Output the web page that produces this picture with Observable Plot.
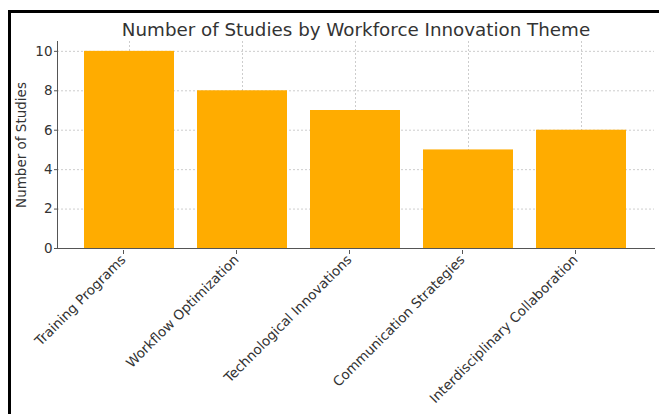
<!DOCTYPE html>
<html>
<head>
<meta charset="utf-8">
<script src="https://cdn.jsdelivr.net/npm/d3@7"></script>
<script src="https://cdn.jsdelivr.net/npm/@observablehq/plot@0.6"></script>
<style>
  html, body { margin: 0; padding: 0; background: #fff; width: 659px; height: 414px; overflow: hidden; }
  #chart { position: absolute; left: 0; top: 0; }
  #frame { position: absolute; left: 8px; top: 10px; right: -10px; bottom: -10px; border-top: 3px solid #000; border-left: 3px solid #000; pointer-events: none; }
</style>
</head>
<body>
<div id="chart"></div>
<div id="frame"></div>
<script>
const categories = ["Training Programs", "Workflow Optimization", "Technological Innovations", "Communication Strategies", "Interdisciplinary Collaboration"];
const values = [10, 8, 7, 5, 6];
const yTicks = [0, 2, 4, 6, 8, 10];
const title = "Number of Studies by Workforce Innovation Theme";
const yLabel = "Number of Studies";

const data = categories.map((c, i) => ({category: c, value: values[i]}));
const gridStyle = {stroke: "#b0b0b0", strokeOpacity: 0.8, strokeDasharray: "2,2", strokeWidth: 0.8};

const chart = Plot.plot({
  width: 659,
  height: 414,
  marginLeft: 57,
  marginRight: 5,
  marginTop: 41,
  marginBottom: 166,
  style: {fontFamily: "DejaVu Sans", fontSize: "13.5px", color: "#333", background: "transparent", overflow: "visible"},
  x: {domain: categories, paddingInner: 0.2, paddingOuter: 0.24, label: null},
  y: {domain: [0, 10.5], label: null},
  marks: [
    Plot.gridY(yTicks, gridStyle),
    Plot.gridX(categories, gridStyle),
    Plot.barY(data, {x: "category", y: "value", fill: "#ffac00"}),
    Plot.frame({anchor: "left", stroke: "#555"}),
    Plot.frame({anchor: "bottom", stroke: "#555"}),
    Plot.axisY({ticks: yTicks, tickSize: 3, tickPadding: 2, stroke: "#555", label: null, fill: "#333", fontSize: 13.5}),
    Plot.axisX({tickSize: 4, tickPadding: 3, tickRotate: -45, stroke: "#555", label: null, fill: "#333", fontSize: 13.5, dx: -6, dy: 2}),
    Plot.text([title], {text: d => d, frameAnchor: "top", lineAnchor: "bottom", dy: -6, fontSize: 18.3, fill: "#333"}),
    Plot.text([yLabel], {text: d => d, frameAnchor: "left", textAnchor: "middle", rotate: -90, dx: -35.5, fontSize: 13.5, fill: "#333"})
  ]
});
document.getElementById("chart").appendChild(chart);
</script>
</body>
</html>
